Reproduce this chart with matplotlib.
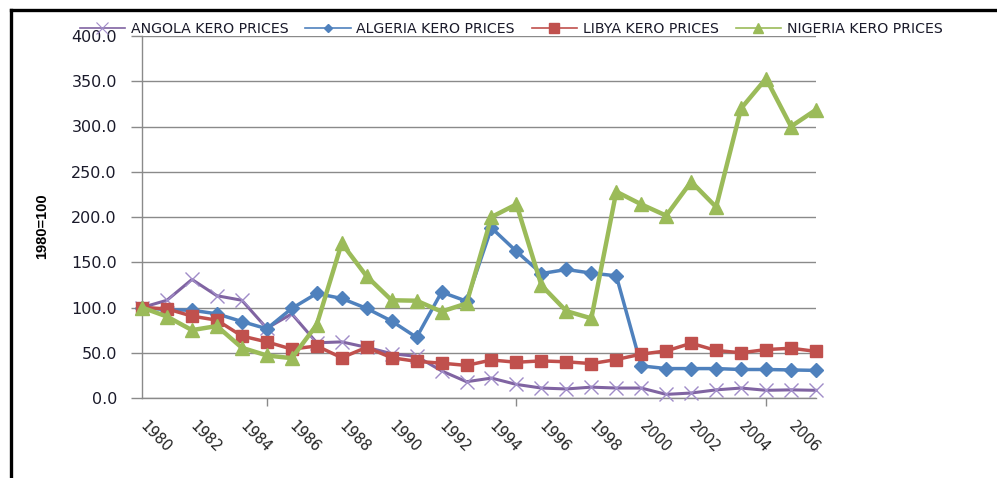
import matplotlib
matplotlib.use('Agg')
import matplotlib.pyplot as plt
from matplotlib.lines import Line2D
import matplotlib.transforms as mtransforms

years = list(range(1980, 2008))
angola = [100, 108, 131, 113, 108, 77, 93, 61, 62, 56, 49, 46, 30, 18, 22, 15,
          11, 10, 12, 11, 11, 4, 5.5, 9, 11, 8.5, 9, 8.5]
algeria = [100, 97.5, 97, 93, 84.5, 76.5, 99, 115.5, 110, 99, 85, 67, 117, 107,
           188, 162, 137.5, 142, 138, 135, 35.5, 32.5, 32.5, 32.5, 31.5, 31.5, 31, 30.5]
libya = [100, 98.5, 90.5, 86, 68.5, 62, 54, 57.5, 44.5, 56, 44.5, 40.5, 38.5, 36,
         42, 39.5, 41, 40, 38, 42.5, 48.5, 52, 60.5, 52.5, 50, 53.5, 55, 51.5]
nigeria = [100, 90, 75, 79.5, 55.5, 47, 44, 81, 171, 134.5, 108, 107.5, 95.5, 104.5,
           200, 214, 124.5, 96, 88, 228, 214, 201.5, 239, 211, 320, 353, 300, 318.5]

series_names = ["ANGOLA KERO PRICES", "ALGERIA KERO PRICES",
                "LIBYA KERO PRICES", "NIGERIA KERO PRICES"]
label_years = list(range(1980, 2007, 2))
tick_years = list(range(1980, 2008, 5))
y_ticks = [0, 50, 100, 150, 200, 250, 300, 350, 400]

W, H = 997, 478
fig = plt.figure(figsize=(W / 100, H / 100), dpi=100)
ax = fig.add_axes([142 / W, 1 - 398 / H, (816 - 142) / W, (398 - 36) / H])

c_ang, c_alg, c_lib, c_nig = '#8064A2', '#4F81BD', '#C0504D', '#9BBB59'

ax.plot(years, angola, color=c_ang, lw=2.2, marker='x', ms=10, mew=1.0,
        mec='#A08CC8', clip_on=False, zorder=3)
ax.plot(years, algeria, color=c_alg, lw=2.5, marker='D', ms=7, clip_on=False, zorder=4)
ax.plot(years, libya, color=c_lib, lw=2.5, marker='s', ms=9, clip_on=False, zorder=5)
ax.plot(years, nigeria, color=c_nig, lw=3.2, marker='^', ms=10, clip_on=False, zorder=6)

ax.set_xlim(1980, 2007)
ax.set_ylim(0, 400)

ax.set_yticks(y_ticks)
ax.set_yticklabels([f"{v:.1f}" for v in y_ticks], fontsize=11.5, color='#1a1a2a')
ax.yaxis.grid(True, color='#8a8a8a', lw=1.0)
ax.set_axisbelow(True)

ax.set_xticks(label_years)
ax.set_xticklabels([str(y) for y in label_years], rotation=-45, ha='left', va='top',
                   fontsize=10.5, color='#222222')
ax.set_xticks(tick_years, minor=True)
ax.tick_params(axis='x', which='major', length=0, pad=15)
ax.tick_params(axis='x', which='minor', length=6, width=1, color='#8a8a8a', direction='out')
ax.tick_params(axis='y', length=8, width=1, color='#8a8a8a', pad=10)
offset = mtransforms.ScaledTranslation(-5 / 100, 0, fig.dpi_scale_trans)
for lbl in ax.get_xticklabels():
    lbl.set_transform(lbl.get_transform() + offset)

for s in ['top', 'right']:
    ax.spines[s].set_visible(False)
for s in ['left', 'bottom']:
    ax.spines[s].set_color('#8a8a8a')
    ax.spines[s].set_linewidth(1.0)

handles = [
    Line2D([], [], color=c_ang, lw=1.2, marker='x', ms=8, mew=0.8, mec='#A08CC8'),
    Line2D([], [], color=c_alg, lw=1.2, marker='D', ms=4),
    Line2D([], [], color=c_lib, lw=1.2, marker='s', ms=7),
    Line2D([], [], color=c_nig, lw=1.2, marker='^', ms=7),
]
fig.legend(handles, series_names, loc='center', bbox_to_anchor=(511 / W, 1 - 29 / H),
           ncol=4, frameon=False, fontsize=10.2, handlelength=3.2, handletextpad=0.4,
           columnspacing=1.2, borderpad=0, labelcolor='#1a1a2a')

fig.text(42 / W, 1 - 226 / H, "1980=100", rotation=90, ha='center', va='center',
         fontsize=10.5, fontweight='bold', family=['Liberation Sans', 'DejaVu Sans'])

# outer frame (left and top)
fig.add_artist(Line2D([10.5 / W, 10.5 / W], [0, 1 - 9.5 / H], color='black', lw=2.4,
                      transform=fig.transFigure))
fig.add_artist(Line2D([10.5 / W, 1.01], [1 - 9.5 / H, 1 - 9.5 / H], color='black', lw=2.4,
                      transform=fig.transFigure))

fig.savefig('out.png', dpi=100)
